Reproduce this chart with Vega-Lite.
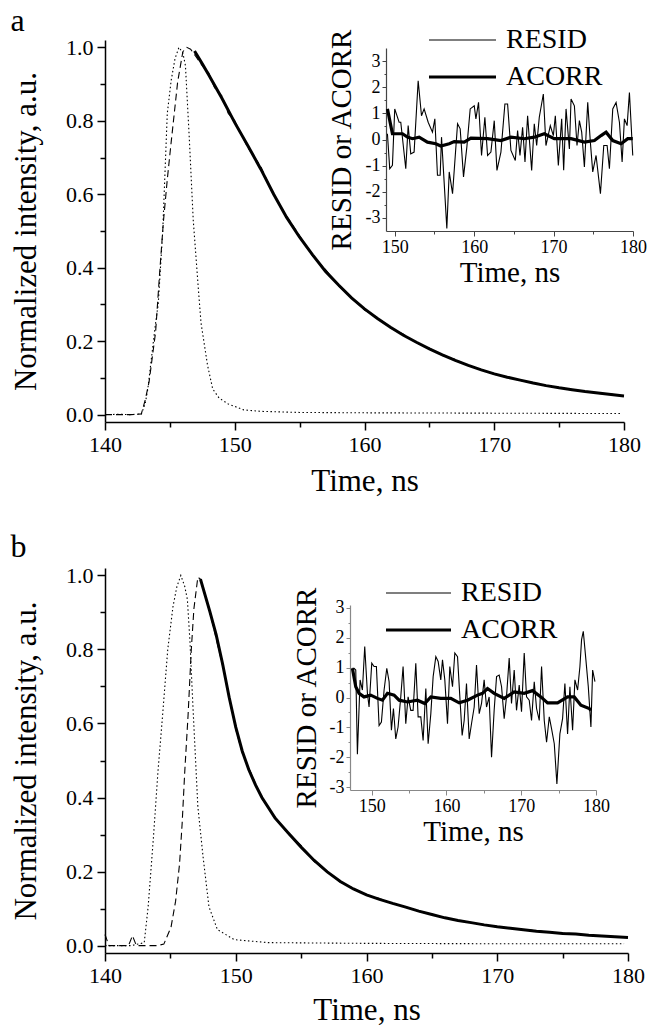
{
"$schema": "https://vega.github.io/schema/vega-lite/v6.json",
"background": "white",
"padding": {"left": 10, "top": 5, "right": 0, "bottom": 0},
"spacing": 35,
"resolve": {"scale": {"strokeWidth": "independent"}, "legend": {"strokeWidth": "independent"}},
"datasets": {
"mainA": [
{"s":"irf","t":140,"v":0},{"s":"irf","t":141,"v":0.001},{"s":"irf","t":142,"v":0},{"s":"irf","t":142.8,"v":0.002},{"s":"irf","t":143.1,"v":0.03},{"s":"irf","t":143.3,"v":0.07},{"s":"irf","t":143.6,"v":0.16},{"s":"irf","t":143.9,"v":0.25},{"s":"irf","t":144.1,"v":0.30},{"s":"irf","t":144.45,"v":0.5},{"s":"irf","t":144.8,"v":0.82},{"s":"irf","t":145.1,"v":0.91},{"s":"irf","t":145.4,"v":0.97},{"s":"irf","t":145.7,"v":1.0},{"s":"irf","t":146.0,"v":0.985},{"s":"irf","t":146.2,"v":0.95},{"s":"irf","t":146.5,"v":0.75},{"s":"irf","t":146.8,"v":0.53},{"s":"irf","t":147.2,"v":0.34},{"s":"irf","t":147.4,"v":0.25},{"s":"irf","t":147.9,"v":0.135},{"s":"irf","t":148.3,"v":0.07},{"s":"irf","t":148.8,"v":0.045},{"s":"irf","t":149.5,"v":0.029},{"s":"irf","t":150.7,"v":0.013},{"s":"irf","t":152,"v":0.009},{"s":"irf","t":155,"v":0.006},{"s":"irf","t":160,"v":0.005},{"s":"irf","t":170,"v":0.004},{"s":"irf","t":179.8,"v":0.003},
{"s":"data","t":140,"v":0},{"s":"data","t":141,"v":0},{"s":"data","t":142,"v":0},{"s":"data","t":142.8,"v":0.002},{"s":"data","t":143.1,"v":0.04},{"s":"data","t":143.4,"v":0.09},{"s":"data","t":143.9,"v":0.225},{"s":"data","t":144.2,"v":0.38},{"s":"data","t":144.5,"v":0.525},{"s":"data","t":144.8,"v":0.64},{"s":"data","t":145.1,"v":0.742},{"s":"data","t":145.6,"v":0.906},{"s":"data","t":146.0,"v":0.988},{"s":"data","t":146.3,"v":1.0},{"s":"data","t":146.6,"v":0.995},{"s":"data","t":147.0,"v":0.975},{"s":"data","t":147.5,"v":0.95},{"s":"data","t":148,"v":0.93},{"s":"data","t":148.5,"v":0.885},{"s":"data","t":149,"v":0.868},{"s":"data","t":149.5,"v":0.82},{"s":"data","t":150,"v":0.80},{"s":"data","t":151,"v":0.728},{"s":"data","t":152,"v":0.676},{"s":"data","t":153,"v":0.598},{"s":"data","t":154,"v":0.54},{"s":"data","t":155,"v":0.487},{"s":"data","t":156,"v":0.432},{"s":"data","t":157,"v":0.395},{"s":"data","t":158,"v":0.35},{"s":"data","t":159,"v":0.32},{"s":"data","t":160,"v":0.285},{"s":"data","t":161,"v":0.264},{"s":"data","t":162,"v":0.236},{"s":"data","t":163,"v":0.219},{"s":"data","t":164,"v":0.195},{"s":"data","t":165,"v":0.181},{"s":"data","t":166,"v":0.161},{"s":"data","t":167,"v":0.150},{"s":"data","t":168,"v":0.133},{"s":"data","t":169,"v":0.123},{"s":"data","t":170,"v":0.110},{"s":"data","t":171,"v":0.103},{"s":"data","t":172,"v":0.093},{"s":"data","t":173,"v":0.087},{"s":"data","t":174,"v":0.078},{"s":"data","t":175,"v":0.074},{"s":"data","t":176,"v":0.067},{"s":"data","t":177,"v":0.064},{"s":"data","t":178,"v":0.058},{"s":"data","t":179,"v":0.056},{"s":"data","t":180,"v":0.050},
{"s":"fit","t":146.9,"v":0.99},{"s":"fit","t":147.5,"v":0.955},{"s":"fit","t":148,"v":0.925},{"s":"fit","t":149,"v":0.862},{"s":"fit","t":150,"v":0.795},{"s":"fit","t":151,"v":0.733},{"s":"fit","t":152,"v":0.669},{"s":"fit","t":153,"v":0.600},{"s":"fit","t":154,"v":0.537},{"s":"fit","t":155,"v":0.483},{"s":"fit","t":156,"v":0.435},{"s":"fit","t":157,"v":0.39},{"s":"fit","t":158,"v":0.353},{"s":"fit","t":159,"v":0.318},{"s":"fit","t":160,"v":0.288},{"s":"fit","t":161,"v":0.262},{"s":"fit","t":162,"v":0.238},{"s":"fit","t":163,"v":0.216},{"s":"fit","t":164,"v":0.197},{"s":"fit","t":165,"v":0.179},{"s":"fit","t":166,"v":0.163},{"s":"fit","t":167,"v":0.148},{"s":"fit","t":168,"v":0.134},{"s":"fit","t":169,"v":0.122},{"s":"fit","t":170,"v":0.111},{"s":"fit","t":171,"v":0.102},{"s":"fit","t":172,"v":0.094},{"s":"fit","t":173,"v":0.086},{"s":"fit","t":174,"v":0.079},{"s":"fit","t":175,"v":0.073},{"s":"fit","t":176,"v":0.068},{"s":"fit","t":177,"v":0.063},{"s":"fit","t":178,"v":0.059},{"s":"fit","t":179,"v":0.055},{"s":"fit","t":180,"v":0.051}
],
"insetA": [
{"s":"RESID","t":149.08,"v":0.22},{"s":"RESID","t":149.37,"v":-1.12},{"s":"RESID","t":149.71,"v":-0.99},{"s":"RESID","t":150.0,"v":1.17},{"s":"RESID","t":150.55,"v":0.66},{"s":"RESID","t":150.76,"v":0.66},{"s":"RESID","t":151.39,"v":-1.12},{"s":"RESID","t":151.69,"v":0.53},{"s":"RESID","t":152.02,"v":-0.55},{"s":"RESID","t":152.44,"v":-0.48},{"s":"RESID","t":152.95,"v":2.25},{"s":"RESID","t":153.37,"v":0.91},{"s":"RESID","t":153.70,"v":1.17},{"s":"RESID","t":154.21,"v":0.66},{"s":"RESID","t":154.75,"v":0.28},{"s":"RESID","t":155.05,"v":0.79},{"s":"RESID","t":155.38,"v":-1.37},{"s":"RESID","t":155.72,"v":-1.37},{"s":"RESID","t":155.89,"v":0.09},{"s":"RESID","t":156.56,"v":-3.4},{"s":"RESID","t":156.86,"v":-1.24},{"s":"RESID","t":157.28,"v":-2.07},{"s":"RESID","t":157.91,"v":0.6},{"s":"RESID","t":158.24,"v":0.41},{"s":"RESID","t":158.66,"v":-1.43},{"s":"RESID","t":159.08,"v":-0.29},{"s":"RESID","t":159.50,"v":1.17},{"s":"RESID","t":160.01,"v":1.29},{"s":"RESID","t":160.22,"v":0.79},{"s":"RESID","t":160.55,"v":1.42},{"s":"RESID","t":160.93,"v":-0.61},{"s":"RESID","t":161.35,"v":0.85},{"s":"RESID","t":161.69,"v":-0.61},{"s":"RESID","t":162.11,"v":-0.48},{"s":"RESID","t":162.53,"v":0.72},{"s":"RESID","t":162.87,"v":-1.18},{"s":"RESID","t":163.37,"v":-0.48},{"s":"RESID","t":163.87,"v":1.36},{"s":"RESID","t":164.21,"v":1.36},{"s":"RESID","t":164.63,"v":-0.42},{"s":"RESID","t":165.18,"v":-0.8},{"s":"RESID","t":165.47,"v":0.34},{"s":"RESID","t":165.77,"v":-0.61},{"s":"RESID","t":166.10,"v":0.47},{"s":"RESID","t":166.40,"v":-0.86},{"s":"RESID","t":166.73,"v":0.91},{"s":"RESID","t":167.24,"v":-1.18},{"s":"RESID","t":167.57,"v":0.6},{"s":"RESID","t":167.87,"v":-0.23},{"s":"RESID","t":168.20,"v":0.85},{"s":"RESID","t":168.71,"v":1.74},{"s":"RESID","t":169.04,"v":-0.23},{"s":"RESID","t":169.59,"v":0.53},{"s":"RESID","t":169.97,"v":0.15},{"s":"RESID","t":170.22,"v":0.91},{"s":"RESID","t":170.60,"v":-0.99},{"s":"RESID","t":171.02,"v":0.79},{"s":"RESID","t":171.27,"v":-1.18},{"s":"RESID","t":171.57,"v":1.17},{"s":"RESID","t":171.99,"v":-0.36},{"s":"RESID","t":172.20,"v":1.55},{"s":"RESID","t":172.62,"v":1.29},{"s":"RESID","t":172.95,"v":-0.23},{"s":"RESID","t":173.25,"v":0.72},{"s":"RESID","t":173.54,"v":0.28},{"s":"RESID","t":173.88,"v":-1.05},{"s":"RESID","t":174.30,"v":1.42},{"s":"RESID","t":174.63,"v":-0.1},{"s":"RESID","t":174.93,"v":-1.24},{"s":"RESID","t":175.35,"v":-0.61},{"s":"RESID","t":175.90,"v":-2.07},{"s":"RESID","t":176.32,"v":-0.23},{"s":"RESID","t":176.74,"v":-0.23},{"s":"RESID","t":177.03,"v":-1.12},{"s":"RESID","t":177.45,"v":1.17},{"s":"RESID","t":177.87,"v":1.42},{"s":"RESID","t":178.29,"v":0.66},{"s":"RESID","t":178.63,"v":-0.86},{"s":"RESID","t":178.92,"v":0.79},{"s":"RESID","t":179.26,"v":0.53},{"s":"RESID","t":179.55,"v":1.8},{"s":"RESID","t":179.97,"v":-0.61},
{"s":"ACORR","t":149.08,"v":1.17},{"s":"ACORR","t":149.71,"v":0.22},{"s":"ACORR","t":150.13,"v":0.22},{"s":"ACORR","t":150.97,"v":0.22},{"s":"ACORR","t":151.6,"v":0.09},{"s":"ACORR","t":152.23,"v":0.03},{"s":"ACORR","t":153.07,"v":0.09},{"s":"ACORR","t":154.12,"v":-0.1},{"s":"ACORR","t":155.17,"v":-0.16},{"s":"ACORR","t":155.8,"v":-0.25},{"s":"ACORR","t":156.86,"v":-0.16},{"s":"ACORR","t":157.49,"v":-0.08},{"s":"ACORR","t":158.75,"v":-0.1},{"s":"ACORR","t":159.59,"v":0.05},{"s":"ACORR","t":161.69,"v":0.03},{"s":"ACORR","t":163.37,"v":-0.04},{"s":"ACORR","t":164.63,"v":0.09},{"s":"ACORR","t":166.31,"v":0.03},{"s":"ACORR","t":167.57,"v":0.09},{"s":"ACORR","t":168.83,"v":0.22},{"s":"ACORR","t":170.09,"v":0.03},{"s":"ACORR","t":172.2,"v":0.03},{"s":"ACORR","t":173.88,"v":-0.1},{"s":"ACORR","t":175.14,"v":-0.04},{"s":"ACORR","t":175.98,"v":0.15},{"s":"ACORR","t":176.61,"v":0.28},{"s":"ACORR","t":177.45,"v":-0.04},{"s":"ACORR","t":178.5,"v":-0.16},{"s":"ACORR","t":179.34,"v":0.03},{"s":"ACORR","t":179.97,"v":0.03}
],
"mainB": [
{"s":"irf","t":140,"v":0},{"s":"irf","t":141,"v":0},{"s":"irf","t":142,"v":0},{"s":"irf","t":143.0,"v":0.008},{"s":"irf","t":143.3,"v":0.105},{"s":"irf","t":143.7,"v":0.29},{"s":"irf","t":144.05,"v":0.47},{"s":"irf","t":144.4,"v":0.62},{"s":"irf","t":144.8,"v":0.80},{"s":"irf","t":145.2,"v":0.916},{"s":"irf","t":145.5,"v":0.97},{"s":"irf","t":145.8,"v":1.0},{"s":"irf","t":146.1,"v":0.97},{"s":"irf","t":146.3,"v":0.935},{"s":"irf","t":146.5,"v":0.82},{"s":"irf","t":146.7,"v":0.665},{"s":"irf","t":147.1,"v":0.376},{"s":"irf","t":147.5,"v":0.24},{"s":"irf","t":147.95,"v":0.105},{"s":"irf","t":148.6,"v":0.043},{"s":"irf","t":149.9,"v":0.016},{"s":"irf","t":152.5,"v":0.008},{"s":"irf","t":160,"v":0.006},{"s":"irf","t":170,"v":0.005},{"s":"irf","t":179.7,"v":0.005},
{"s":"data","t":140,"v":0.03},{"s":"data","t":140.3,"v":0},{"s":"data","t":141,"v":0},{"s":"data","t":141.8,"v":0},{"s":"data","t":142.1,"v":0.027},{"s":"data","t":142.4,"v":0},{"s":"data","t":143,"v":0},{"s":"data","t":144,"v":0},{"s":"data","t":144.5,"v":0.004},{"s":"data","t":145.05,"v":0.05},{"s":"data","t":145.4,"v":0.12},{"s":"data","t":145.7,"v":0.22},{"s":"data","t":145.9,"v":0.33},{"s":"data","t":146.1,"v":0.47},{"s":"data","t":146.35,"v":0.62},{"s":"data","t":146.6,"v":0.80},{"s":"data","t":146.8,"v":0.91},{"s":"data","t":147.1,"v":0.995},{"s":"data","t":147.3,"v":0.99},{"s":"data","t":147.8,"v":0.93},{"s":"data","t":148.3,"v":0.86},{"s":"data","t":149,"v":0.755},{"s":"data","t":149.5,"v":0.675},{"s":"data","t":150,"v":0.585},{"s":"data","t":150.5,"v":0.52},{"s":"data","t":151,"v":0.48},{"s":"data","t":152,"v":0.397},{"s":"data","t":153,"v":0.348},{"s":"data","t":154,"v":0.302},{"s":"data","t":155,"v":0.270},{"s":"data","t":156,"v":0.227},{"s":"data","t":157,"v":0.200},{"s":"data","t":158,"v":0.171},{"s":"data","t":159,"v":0.155},{"s":"data","t":160,"v":0.136},{"s":"data","t":161,"v":0.127},{"s":"data","t":162,"v":0.113},{"s":"data","t":163,"v":0.105},{"s":"data","t":164,"v":0.092},{"s":"data","t":165,"v":0.085},{"s":"data","t":166,"v":0.074},{"s":"data","t":167,"v":0.069},{"s":"data","t":168,"v":0.061},{"s":"data","t":169,"v":0.057},{"s":"data","t":170,"v":0.050},{"s":"data","t":172,"v":0.044},{"s":"data","t":174,"v":0.036},{"s":"data","t":176,"v":0.031},{"s":"data","t":178,"v":0.026},{"s":"data","t":180,"v":0.022},
{"s":"fit","t":147.3,"v":0.99},{"s":"fit","t":148,"v":0.905},{"s":"fit","t":148.5,"v":0.84},{"s":"fit","t":149,"v":0.76},{"s":"fit","t":149.5,"v":0.67},{"s":"fit","t":150,"v":0.59},{"s":"fit","t":150.5,"v":0.525},{"s":"fit","t":151,"v":0.475},{"s":"fit","t":151.5,"v":0.435},{"s":"fit","t":152,"v":0.40},{"s":"fit","t":153,"v":0.345},{"s":"fit","t":154,"v":0.305},{"s":"fit","t":155,"v":0.266},{"s":"fit","t":156,"v":0.230},{"s":"fit","t":157,"v":0.199},{"s":"fit","t":158,"v":0.173},{"s":"fit","t":159,"v":0.153},{"s":"fit","t":160,"v":0.137},{"s":"fit","t":161,"v":0.125},{"s":"fit","t":162,"v":0.114},{"s":"fit","t":163,"v":0.104},{"s":"fit","t":164,"v":0.093},{"s":"fit","t":165,"v":0.084},{"s":"fit","t":166,"v":0.075},{"s":"fit","t":167,"v":0.068},{"s":"fit","t":168,"v":0.062},{"s":"fit","t":169,"v":0.056},{"s":"fit","t":170,"v":0.051},{"s":"fit","t":171,"v":0.047},{"s":"fit","t":172,"v":0.043},{"s":"fit","t":173,"v":0.039},{"s":"fit","t":174,"v":0.036},{"s":"fit","t":175,"v":0.033},{"s":"fit","t":176,"v":0.031},{"s":"fit","t":177,"v":0.028},{"s":"fit","t":178,"v":0.026},{"s":"fit","t":179,"v":0.024},{"s":"fit","t":180,"v":0.022}
],
"insetB": [
{"s":"RESID","t":147.42,"v":0.98},{"s":"RESID","t":147.64,"v":0.98},{"s":"RESID","t":147.87,"v":0.92},{"s":"RESID","t":148.09,"v":-1.9},{"s":"RESID","t":148.45,"v":0.59},{"s":"RESID","t":148.76,"v":0.25},{"s":"RESID","t":149.07,"v":1.71},{"s":"RESID","t":149.43,"v":0.14},{"s":"RESID","t":149.65,"v":-0.32},{"s":"RESID","t":150.01,"v":1.15},{"s":"RESID","t":150.32,"v":1.04},{"s":"RESID","t":150.63,"v":1.04},{"s":"RESID","t":150.99,"v":-0.94},{"s":"RESID","t":151.30,"v":-0.82},{"s":"RESID","t":151.66,"v":0.25},{"s":"RESID","t":152.02,"v":0.98},{"s":"RESID","t":152.33,"v":0.53},{"s":"RESID","t":152.64,"v":-1.1},{"s":"RESID","t":152.91,"v":-0.37},{"s":"RESID","t":153.22,"v":-1.39},{"s":"RESID","t":153.53,"v":-0.99},{"s":"RESID","t":153.89,"v":0.02},{"s":"RESID","t":154.20,"v":1.04},{"s":"RESID","t":154.56,"v":-0.88},{"s":"RESID","t":154.87,"v":0.02},{"s":"RESID","t":155.23,"v":-0.43},{"s":"RESID","t":155.54,"v":-0.43},{"s":"RESID","t":155.90,"v":1.15},{"s":"RESID","t":156.21,"v":-0.65},{"s":"RESID","t":156.57,"v":-0.65},{"s":"RESID","t":156.88,"v":-1.44},{"s":"RESID","t":157.24,"v":0.3},{"s":"RESID","t":157.55,"v":-1.55},{"s":"RESID","t":157.91,"v":-0.54},{"s":"RESID","t":158.22,"v":0.7},{"s":"RESID","t":158.58,"v":1.37},{"s":"RESID","t":158.89,"v":1.21},{"s":"RESID","t":159.24,"v":0.59},{"s":"RESID","t":159.47,"v":1.26},{"s":"RESID","t":159.78,"v":0.59},{"s":"RESID","t":160.14,"v":-0.88},{"s":"RESID","t":160.45,"v":1.04},{"s":"RESID","t":160.81,"v":0.36},{"s":"RESID","t":161.12,"v":1.49},{"s":"RESID","t":161.48,"v":1.37},{"s":"RESID","t":161.79,"v":0.02},{"s":"RESID","t":162.10,"v":-1.27},{"s":"RESID","t":162.37,"v":-0.77},{"s":"RESID","t":162.68,"v":0.47},{"s":"RESID","t":163.04,"v":-1.39},{"s":"RESID","t":163.35,"v":-0.88},{"s":"RESID","t":163.71,"v":-0.32},{"s":"RESID","t":164.02,"v":1.09},{"s":"RESID","t":164.38,"v":-0.54},{"s":"RESID","t":164.69,"v":-0.2},{"s":"RESID","t":165.04,"v":0.59},{"s":"RESID","t":165.36,"v":-0.32},{"s":"RESID","t":165.71,"v":0.02},{"s":"RESID","t":166.03,"v":-2.0},{"s":"RESID","t":166.38,"v":-0.43},{"s":"RESID","t":166.70,"v":0.7},{"s":"RESID","t":167.05,"v":0.75},{"s":"RESID","t":167.37,"v":0.36},{"s":"RESID","t":167.72,"v":-0.71},{"s":"RESID","t":168.03,"v":0.02},{"s":"RESID","t":168.39,"v":1.32},{"s":"RESID","t":168.70,"v":-0.2},{"s":"RESID","t":169.06,"v":0.92},{"s":"RESID","t":169.37,"v":-0.43},{"s":"RESID","t":169.73,"v":0.42},{"s":"RESID","t":170.04,"v":-0.48},{"s":"RESID","t":170.40,"v":1.49},{"s":"RESID","t":170.71,"v":0.02},{"s":"RESID","t":171.07,"v":-0.09},{"s":"RESID","t":171.38,"v":-0.77},{"s":"RESID","t":171.74,"v":0.53},{"s":"RESID","t":172.05,"v":-0.37},{"s":"RESID","t":172.41,"v":-0.77},{"s":"RESID","t":172.72,"v":1.04},{"s":"RESID","t":173.08,"v":-0.77},{"s":"RESID","t":173.39,"v":-1.5},{"s":"RESID","t":173.75,"v":-0.65},{"s":"RESID","t":174.06,"v":-1.05},{"s":"RESID","t":174.42,"v":-1.55},{"s":"RESID","t":174.77,"v":-2.9},{"s":"RESID","t":175.17,"v":-1.22},{"s":"RESID","t":175.53,"v":-0.71},{"s":"RESID","t":175.84,"v":0.47},{"s":"RESID","t":176.20,"v":-1.22},{"s":"RESID","t":176.51,"v":0.36},{"s":"RESID","t":176.87,"v":-1.1},{"s":"RESID","t":177.18,"v":0.59},{"s":"RESID","t":177.54,"v":0.25},{"s":"RESID","t":177.85,"v":1.04},{"s":"RESID","t":178.07,"v":1.94},{"s":"RESID","t":178.30,"v":2.22},{"s":"RESID","t":178.65,"v":1.26},{"s":"RESID","t":178.97,"v":0.36},{"s":"RESID","t":179.32,"v":-0.99},{"s":"RESID","t":179.55,"v":0.92},{"s":"RESID","t":179.86,"v":0.53},
{"s":"ACORR","t":147.42,"v":0.98},{"s":"ACORR","t":147.87,"v":0.36},{"s":"ACORR","t":148.31,"v":0.14},{"s":"ACORR","t":148.98,"v":0.02},{"s":"ACORR","t":149.87,"v":0.08},{"s":"ACORR","t":150.77,"v":-0.03},{"s":"ACORR","t":151.44,"v":-0.09},{"s":"ACORR","t":152.11,"v":0.14},{"s":"ACORR","t":153.0,"v":0.08},{"s":"ACORR","t":153.67,"v":-0.09},{"s":"ACORR","t":154.78,"v":-0.15},{"s":"ACORR","t":156.12,"v":-0.09},{"s":"ACORR","t":157.10,"v":-0.2},{"s":"ACORR","t":157.91,"v":0.02},{"s":"ACORR","t":159.24,"v":-0.03},{"s":"ACORR","t":160.58,"v":-0.03},{"s":"ACORR","t":161.70,"v":-0.18},{"s":"ACORR","t":162.81,"v":-0.09},{"s":"ACORR","t":164.15,"v":0.08},{"s":"ACORR","t":164.82,"v":0.14},{"s":"ACORR","t":165.49,"v":0.3},{"s":"ACORR","t":166.38,"v":0.14},{"s":"ACORR","t":167.72,"v":-0.03},{"s":"ACORR","t":169.06,"v":0.19},{"s":"ACORR","t":170.40,"v":0.14},{"s":"ACORR","t":171.51,"v":0.23},{"s":"ACORR","t":172.63,"v":0.02},{"s":"ACORR","t":173.52,"v":-0.18},{"s":"ACORR","t":174.86,"v":-0.18},{"s":"ACORR","t":176.20,"v":0.02},{"s":"ACORR","t":177.09,"v":0.02},{"s":"ACORR","t":177.98,"v":-0.26},{"s":"ACORR","t":179.10,"v":-0.37},{"s":"ACORR","t":179.32,"v":-0.43}
]
},
"vconcat": [
{
"title": {"text": "a", "anchor": "start", "frame": "bounds", "fontSize": 32, "fontWeight": "normal", "font": "Liberation Serif", "color": "black", "offset": -10},
"width": 519, "height": 382,
"layer": [
{
"data": {"name": "mainA"},
"encoding": {
"x": {"field": "t", "type": "quantitative", "scale": {"domain": [140, 180], "nice": false, "zero": false},
 "axis": {"title": "Time, ns", "values": [140,145,150,155,160,165,170,175,180], "labelExpr": "datum.value % 10 === 0 ? '' + datum.value : ''", "tickSize": {"condition": {"test": "datum.value % 10 === 0", "value": 8}, "value": 5}, "labelFont": "Liberation Serif", "titleFont": "Liberation Serif", "labelFontSize": 22, "labelPadding": 4, "titleFontSize": 31, "titlePadding": 11, "domainWidth": 1.5, "tickWidth": 1.5}},
"y": {"field": "v", "type": "quantitative", "scale": {"domain": [-0.02, 1.02], "nice": false, "zero": false},
 "axis": {"title": "Normalized intensity, a.u.", "values": [0,0.1,0.2,0.3,0.4,0.5,0.6,0.7,0.8,0.9,1.0], "labelExpr": "round(datum.value*10) % 2 === 0 ? format(datum.value, '.1f') : ''", "tickSize": {"condition": {"test": "round(datum.value*10) % 2 === 0", "value": 8}, "value": 5}, "labelFont": "Liberation Serif", "titleFont": "Liberation Serif", "labelFontSize": 22, "labelPadding": 4, "titleFontSize": 31, "titlePadding": 23, "domainWidth": 1.5, "tickWidth": 1.5}}
},
"layer": [
{"transform": [{"filter": "datum.s === 'irf'"}], "mark": {"type": "line", "color": "black", "strokeWidth": 1.1, "strokeDash": [1.5, 2.5]}},
{"transform": [{"filter": "datum.s === 'data'"}], "mark": {"type": "line", "color": "black", "strokeWidth": 1.1, "strokeDash": [7, 4]}},
{"transform": [{"filter": "datum.s === 'fit'"}], "mark": {"type": "line", "color": "black", "strokeWidth": 3}}
]
},
{
"data": {"name": "insetA"},
"mark": {"type": "line", "color": "black"},
"encoding": {
"x": {"field": "t", "type": "quantitative", "scale": {"domain": [148.9, 180], "range": [281, 528], "nice": false, "zero": false},
 "axis": {"orient": "bottom", "offset": -191, "title": "Time, ns", "values": [150,155,160,165,170,175,180], "labelExpr": "datum.value % 10 === 0 ? '' + datum.value : ''", "tickSize": {"condition": {"test": "datum.value % 10 === 0", "value": 5}, "value": 3}, "labelFont": "Liberation Serif", "titleFont": "Liberation Serif", "labelFontSize": 18, "labelPadding": 2, "titleFontSize": 29, "titlePadding": 2, "domainColor": "#444", "tickColor": "#444", "domainWidth": 1.2}},
"y": {"field": "v", "type": "quantitative", "scale": {"domain": [-3.5, 3.5], "range": [191, 8], "nice": false, "zero": false},
 "axis": {"orient": "left", "offset": -281, "title": "RESID or ACORR", "values": [-3,-2.5,-2,-1.5,-1,-0.5,0,0.5,1,1.5,2,2.5,3], "labelExpr": "datum.value % 1 === 0 ? '' + datum.value : ''", "tickSize": {"condition": {"test": "datum.value % 1 === 0", "value": 4}, "value": 2}, "labelFont": "Liberation Serif", "titleFont": "Liberation Serif", "labelFontSize": 18, "labelPadding": 2, "titleFontSize": 29, "titlePadding": 9, "domainColor": "#444", "tickColor": "#444", "domainWidth": 1.2}},
"detail": {"field": "s"},
"strokeWidth": {"field": "s", "type": "ordinal", "scale": {"domain": ["RESID", "ACORR"], "range": [1.1, 3.2]},
 "legend": {"orient": "none", "legendX": 322, "legendY": -10, "title": null, "symbolType": "stroke", "symbolSize": 4489, "clipHeight": 20, "rowPadding": 9, "labelOffset": 8, "labelFont": "Liberation Serif", "labelFontSize": 28, "labelColor": "black", "symbolStrokeColor": "black", "padding": 0}}
}
}
],
"resolve": {"scale": {"x": "independent", "y": "independent"}, "axis": {"x": "independent", "y": "independent"}}
},
{
"title": {"text": "b", "anchor": "start", "frame": "bounds", "fontSize": 32, "fontWeight": "normal", "font": "Liberation Serif", "color": "black", "offset": 0},
"width": 523, "height": 385,
"layer": [
{
"data": {"name": "mainB"},
"encoding": {
"x": {"field": "t", "type": "quantitative", "scale": {"domain": [140, 180], "nice": false, "zero": false},
 "axis": {"title": "Time, ns", "values": [140,145,150,155,160,165,170,175,180], "labelExpr": "datum.value % 10 === 0 ? '' + datum.value : ''", "tickSize": {"condition": {"test": "datum.value % 10 === 0", "value": 8}, "value": 5}, "labelFont": "Liberation Serif", "titleFont": "Liberation Serif", "labelFontSize": 22, "labelPadding": 4, "titleFontSize": 31, "titlePadding": 9, "domainWidth": 1.5, "tickWidth": 1.5}},
"y": {"field": "v", "type": "quantitative", "scale": {"domain": [-0.02, 1.02], "nice": false, "zero": false},
 "axis": {"title": "Normalized intensity, a.u.", "values": [0,0.1,0.2,0.3,0.4,0.5,0.6,0.7,0.8,0.9,1.0], "labelExpr": "round(datum.value*10) % 2 === 0 ? format(datum.value, '.1f') : ''", "tickSize": {"condition": {"test": "round(datum.value*10) % 2 === 0", "value": 8}, "value": 5}, "labelFont": "Liberation Serif", "titleFont": "Liberation Serif", "labelFontSize": 22, "labelPadding": 4, "titleFontSize": 31, "titlePadding": 23, "domainWidth": 1.5, "tickWidth": 1.5}}
},
"layer": [
{"transform": [{"filter": "datum.s === 'irf'"}], "mark": {"type": "line", "color": "black", "strokeWidth": 1.1, "strokeDash": [1.5, 2.5]}},
{"transform": [{"filter": "datum.s === 'data'"}], "mark": {"type": "line", "color": "black", "strokeWidth": 1.1, "strokeDash": [7, 4]}},
{"transform": [{"filter": "datum.s === 'fit'"}], "mark": {"type": "line", "color": "black", "strokeWidth": 3}}
]
},
{
"data": {"name": "insetB"},
"mark": {"type": "line", "color": "black"},
"encoding": {
"x": {"field": "t", "type": "quantitative", "scale": {"domain": [147.1, 180], "range": [245, 491], "nice": false, "zero": false},
 "axis": {"orient": "bottom", "offset": -163, "title": "Time, ns", "values": [150,155,160,165,170,175,180], "labelExpr": "datum.value % 10 === 0 ? '' + datum.value : ''", "tickSize": {"condition": {"test": "datum.value % 10 === 0", "value": 5}, "value": 3}, "labelFont": "Liberation Serif", "titleFont": "Liberation Serif", "labelFontSize": 18, "labelPadding": 2, "titleFontSize": 29, "titlePadding": 2, "domainColor": "#888", "tickColor": "#888", "domainWidth": 1.2}},
"y": {"field": "v", "type": "quantitative", "scale": {"domain": [-3.1, 3.1], "range": [222, 37], "nice": false, "zero": false},
 "axis": {"orient": "left", "offset": -245, "title": "RESID or ACORR", "values": [-3,-2.5,-2,-1.5,-1,-0.5,0,0.5,1,1.5,2,2.5,3], "labelExpr": "datum.value % 1 === 0 ? '' + datum.value : ''", "tickSize": {"condition": {"test": "datum.value % 1 === 0", "value": 4}, "value": 2}, "labelFont": "Liberation Serif", "titleFont": "Liberation Serif", "labelFontSize": 18, "labelPadding": 2, "titleFontSize": 29, "titlePadding": 8, "domainColor": "#888", "tickColor": "#888", "domainWidth": 1.2}},
"detail": {"field": "s"},
"strokeWidth": {"field": "s", "type": "ordinal", "scale": {"domain": ["RESID", "ACORR"], "range": [1.1, 3.2]},
 "legend": {"orient": "none", "legendX": 279, "legendY": 15, "title": null, "symbolType": "stroke", "symbolSize": 4225, "clipHeight": 20, "rowPadding": 9, "labelOffset": 8, "labelFont": "Liberation Serif", "labelFontSize": 28, "labelColor": "black", "symbolStrokeColor": "black", "padding": 0}}
}
}
],
"resolve": {"scale": {"x": "independent", "y": "independent"}, "axis": {"x": "independent", "y": "independent"}}
}
],
"config": {
"view": {"stroke": null},
"font": "Liberation Serif",
"axis": {"labelFont": "Liberation Serif", "titleFont": "Liberation Serif", "labelColor": "black", "titleColor": "black", "titleFontWeight": "normal", "grid": false, "labelFlush": false, "labelOverlap": false, "domainColor": "black", "tickColor": "black"}
}
}
